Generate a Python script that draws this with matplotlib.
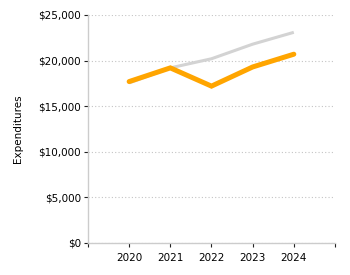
import matplotlib.pyplot as plt
from matplotlib.ticker import FuncFormatter

years = [2020, 2021, 2022, 2023, 2024]
benchmark = [17550, 19200, 20200, 21800, 23100]
expenditures = [17700, 19200, 17200, 19300, 20700]
y_ticks = [0, 5000, 10000, 15000, 20000, 25000]

fig = plt.figure(figsize=(3.5, 2.75), dpi=100)
ax = fig.add_axes([0.2514, 0.1164, 0.7057, 0.8291])

ax.plot(years, benchmark, color="#d3d3d3", lw=2.2, solid_capstyle="butt", zorder=2)
ax.plot(years, expenditures, color="#ffa500", lw=3.6, solid_capstyle="round",
        solid_joinstyle="miter", zorder=3)

ax.set_xlim(2019, 2025)
ax.set_ylim(0, 25000)
ax.set_xticks(range(2019, 2026))
ax.set_xticklabels([""] + [str(y) for y in years] + [""])
ax.set_yticks(y_ticks)
ax.yaxis.set_major_formatter(FuncFormatter(lambda v, p: "${:,.0f}".format(v)))

ax.grid(axis="y", color="#c4c4c4", linestyle=(0, (1, 2)), lw=0.8)
ax.set_axisbelow(True)
for s in ["top", "right"]:
    ax.spines[s].set_visible(False)
for s in ["left", "bottom"]:
    ax.spines[s].set_color("#cccccc")
    ax.spines[s].set_linewidth(1)

ax.tick_params(axis="both", length=3, width=0.8, color="#222222", labelsize=7.5, pad=2)
ax.tick_params(axis="x", pad=4)
ax.set_ylabel("Expenditures", fontsize=7.5, labelpad=11)

fig.savefig("out.png", dpi=100)
